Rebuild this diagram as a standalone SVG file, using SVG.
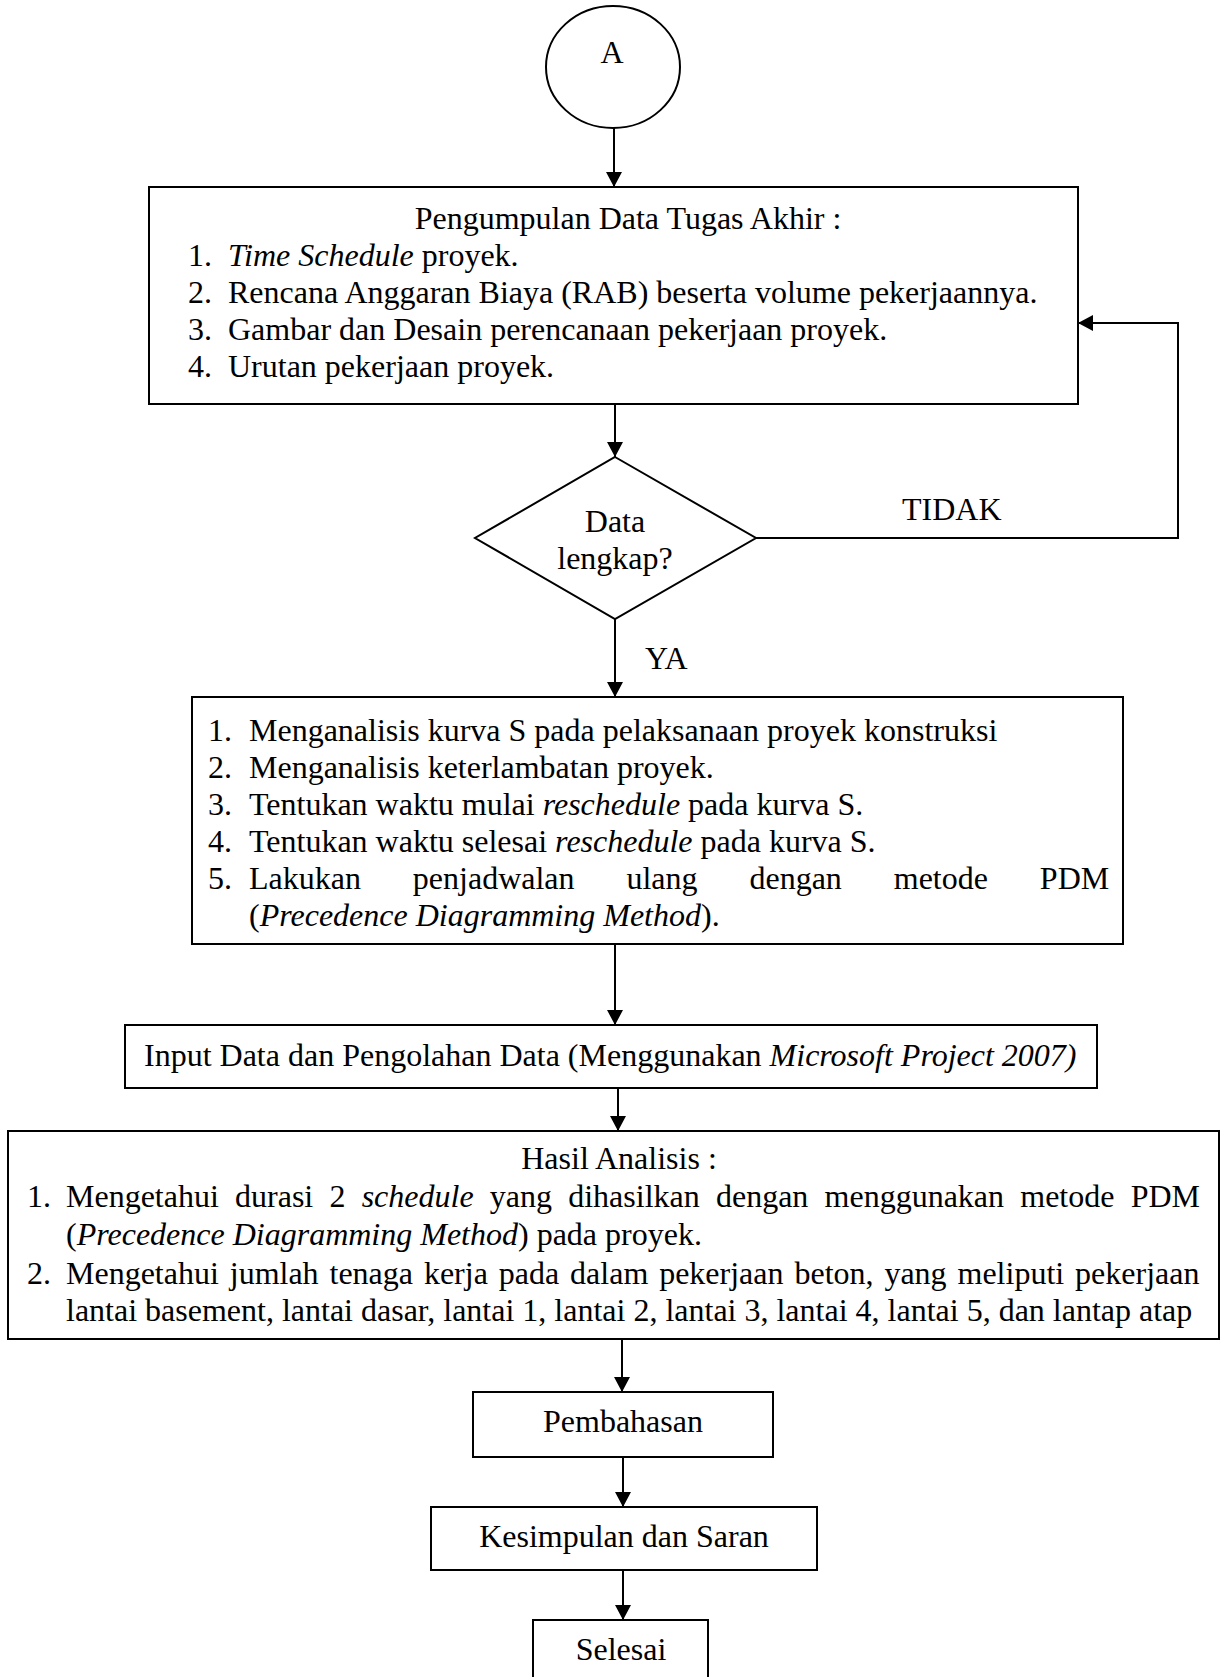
<svg xmlns="http://www.w3.org/2000/svg" width="1230" height="1677" viewBox="0 0 1230 1677">
<style>
.b{fill:#fff;stroke:#000;stroke-width:2}
.c{fill:none;stroke:#000;stroke-width:2}
text{font-family:"Liberation Serif","Times New Roman",serif;font-size:32px;fill:#000}
.m{text-anchor:middle}
.i{font-style:italic}
</style>
<defs>
<marker id="ah" markerUnits="userSpaceOnUse" markerWidth="16" markerHeight="16" refX="15" refY="8" orient="auto">
<path d="M0,0 L15,8 L0,16 z" fill="#000"/>
</marker>
</defs>
<rect width="1230" height="1677" fill="#fff"/>
<g id="connectors">
<line class="c" x1="614" y1="128" x2="614" y2="187" marker-end="url(#ah)"/>
<line class="c" x1="615" y1="404" x2="615" y2="457" marker-end="url(#ah)"/>
<polyline class="c" points="756,538 1178,538 1178,323 1078,323" marker-end="url(#ah)"/>
<text x="902" y="520">TIDAK</text>
<line class="c" x1="615" y1="619" x2="615" y2="697" marker-end="url(#ah)"/>
<text x="645" y="669">YA</text>
<line class="c" x1="615" y1="944" x2="615" y2="1025" marker-end="url(#ah)"/>
<line class="c" x1="618" y1="1088" x2="618" y2="1131" marker-end="url(#ah)"/>
<line class="c" x1="622" y1="1339" x2="622" y2="1392" marker-end="url(#ah)"/>
<line class="c" x1="623" y1="1457" x2="623" y2="1507" marker-end="url(#ah)"/>
<line class="c" x1="623" y1="1570" x2="623" y2="1620" marker-end="url(#ah)"/>
</g>
<g id="nodeA">
<ellipse class="b" cx="613" cy="67" rx="67" ry="61"/>
<text class="m" x="612" y="63">A</text>
</g>
<g id="pengumpulan">
<rect class="b" x="149" y="187" width="929" height="217"/>
<text class="m" x="628" y="229">Pengumpulan Data Tugas Akhir :</text>
<text x="188" y="266">1.</text><text x="228" y="266"><tspan class="i">Time Schedule</tspan> proyek.</text>
<text x="188" y="303">2.</text><text x="228" y="303">Rencana Anggaran Biaya (RAB) beserta volume pekerjaannya.</text>
<text x="188" y="340">3.</text><text x="228" y="340">Gambar dan Desain perencanaan pekerjaan proyek.</text>
<text x="188" y="377">4.</text><text x="228" y="377">Urutan pekerjaan proyek.</text>
</g>
<g id="decision">
<polygon class="b" points="615,457 756,538 615,619 475,538"/>
<text class="m" x="615" y="532">Data</text>
<text class="m" x="615" y="569">lengkap?</text>
</g>
<g id="analisis">
<rect class="b" x="192" y="697" width="931" height="247"/>
<text x="208" y="741">1.</text><text x="249" y="741">Menganalisis kurva S pada pelaksanaan proyek konstruksi</text>
<text x="208" y="778">2.</text><text x="249" y="778">Menganalisis keterlambatan proyek.</text>
<text x="208" y="815">3.</text><text x="249" y="815">Tentukan waktu mulai <tspan class="i">reschedule</tspan> pada kurva S.</text>
<text x="208" y="852">4.</text><text x="249" y="852">Tentukan waktu selesai <tspan class="i">reschedule</tspan> pada kurva S.</text>
<text x="208" y="889">5.</text><text x="249" y="889" style="word-spacing:43.9px">Lakukan penjadwalan ulang dengan metode PDM</text>
<text x="249" y="926">(<tspan class="i">Precedence Diagramming Method</tspan>).</text>
</g>
<g id="input">
<rect class="b" x="125" y="1025" width="972" height="63"/>
<text x="144" y="1066">Input Data dan Pengolahan Data (Menggunakan <tspan class="i">Microsoft Project 2007)</tspan></text>
</g>
<g id="hasil">
<rect class="b" x="8" y="1131" width="1211" height="208"/>
<text class="m" x="619" y="1169">Hasil Analisis :</text>
<text x="27" y="1207">1.</text><text x="66" y="1207" style="word-spacing:8.2px">Mengetahui durasi 2 <tspan class="i">schedule</tspan> yang dihasilkan dengan menggunakan metode PDM</text>
<text x="66" y="1245">(<tspan class="i">Precedence Diagramming Method</tspan>) pada proyek.</text>
<text x="27" y="1284">2.</text><text x="66" y="1284" style="word-spacing:2.9px">Mengetahui jumlah tenaga kerja pada dalam pekerjaan beton, yang meliputi pekerjaan</text>
<text x="66" y="1321">lantai basement, lantai dasar, lantai 1, lantai 2, lantai 3, lantai 4, lantai 5, dan lantap atap</text>
</g>
<g id="pembahasan">
<rect class="b" x="473" y="1392" width="300" height="65"/>
<text class="m" x="623" y="1432">Pembahasan</text>
</g>
<g id="kesimpulan">
<rect class="b" x="431" y="1507" width="386" height="63"/>
<text class="m" x="624" y="1547">Kesimpulan dan Saran</text>
</g>
<g id="selesai">
<rect class="b" x="533" y="1620" width="175" height="80"/>
<text class="m" x="621" y="1660">Selesai</text>
</g>
</svg>
